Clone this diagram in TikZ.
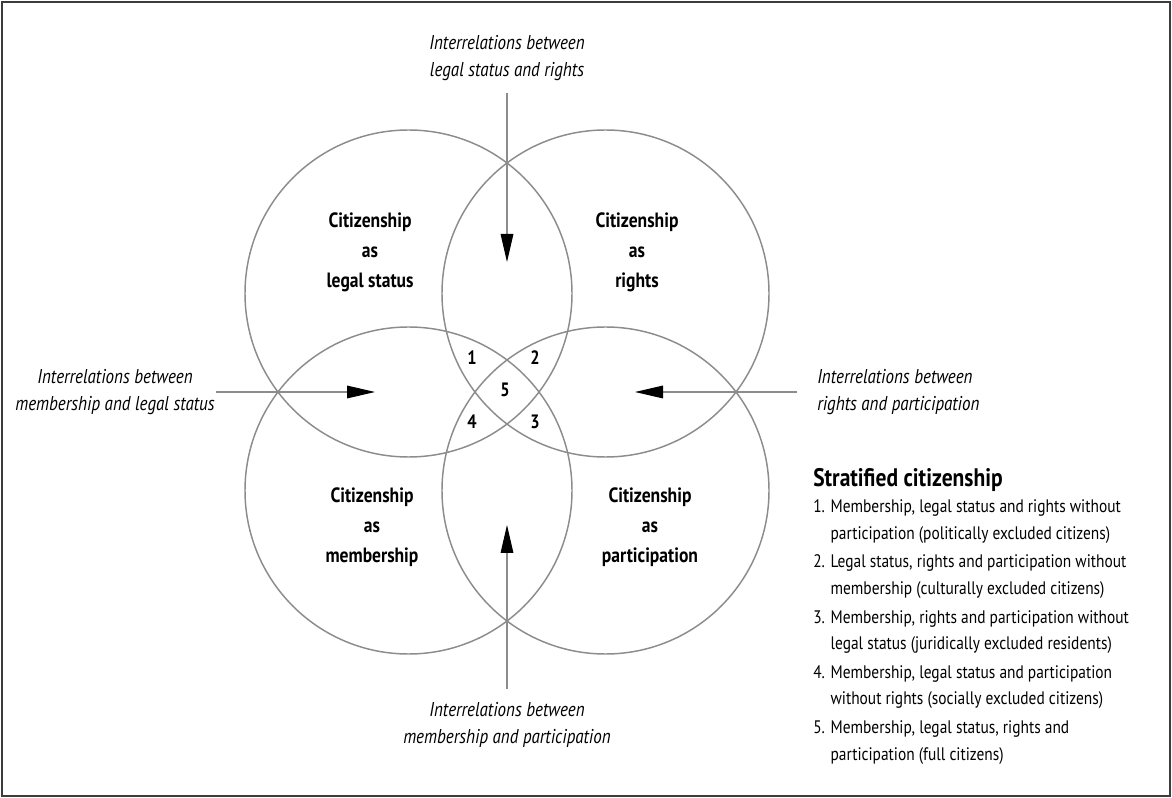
\documentclass[tikz,border=0pt]{standalone}
\usepackage{fontspec}
\setmainfont{PT Sans}[FakeStretch=0.85]
\usepackage{xcolor}
\usepackage{tikz}
\usetikzlibrary{arrows.meta, positioning}
\definecolor{ringgray}{RGB}{140,140,140}
\definecolor{framegray}{RGB}{60,60,60}

\begin{document}
\begin{tikzpicture}[
    x=0.75pt, y=-0.75pt,
    ring/.style={draw=ringgray, circle, line width=1.1pt, minimum size=245.25pt, inner sep=0pt},
    lbl/.style={font=\fontsize{15.5}{22.5}\selectfont\bfseries, align=center},
    num/.style={font=\fontsize{14.5}{16}\selectfont\bfseries, inner sep=0pt},
    rel/.style={font=\fontsize{15}{20.25}\selectfont\itshape, inner sep=0pt},
    item/.style={font=\fontsize{13.6}{19.9}\selectfont, align=left, anchor=west, inner sep=0pt},
    arr/.style={draw=ringgray, line width=0.8pt, -{Triangle[length=21pt, width=9.5pt, color=black]}},
  ]
  \useasboundingbox (0,0) rectangle (1172,798);
  \draw[framegray, line width=1.5pt] (2,2) rectangle (1170,796);

  % four circles
  \node[ring] (cl) at (408.5,293.5) {};
  \node[ring] (cr) at (605.5,293.5) {};
  \node[ring] (cm) at (408.5,490.5) {};
  \node[ring] (cp) at (605.5,490.5) {};

  \node[lbl] (tl) at (370,252) {Citizenship\\as\\legal status};
  \node[lbl] (tr) at (637,252) {Citizenship\\as\\rights};
  \node[lbl] (tm) at (372,527) {Citizenship\\as\\membership};
  \node[lbl] (tp) at (650,527) {Citizenship\\as\\participation};

  \node[num] (n1) at (472,358) {1};
  \node[num] (n2) at (535,358) {2};
  \node[num] (n3) at (535,422) {3};
  \node[num] (n4) at (472,422) {4};
  \node[num] (n5) at (505,390) {5};

  % interrelations
  \node[rel, align=center] (rt) at (507,58) {Interrelations between\\legal status and rights};
  \node[rel, align=center] (rm) at (115,392) {Interrelations between\\membership and legal status};
  \node[rel, align=left, anchor=west] (rp) at (817,392) {Interrelations between\\rights and participation};
  \node[rel, align=center] (rb) at (507,725) {Interrelations between\\membership and participation};

  \coordinate (at) at (507,262);
  \coordinate (ab) at (507,525);
  \coordinate (am) at (375,392);
  \coordinate (ap) at (635,392);

  \draw[arr, shorten <=9pt] (rt) -- (at);
  \draw[arr, shorten <=10pt] (rb) -- (ab);
  \draw[arr, shorten <=1pt] (rm) -- (am);
  \draw[arr, shorten <=15pt] (rp) -- (ap);

  % legend
  \node[font=\fontsize{19}{22}\selectfont\bfseries, anchor=west, inner sep=0pt] (lg) at (813,480) {Stratified citizenship};
  \node[item] (it1) at (813,521.5) {\makebox[13pt][l]{1.}Membership, legal status and rights without\\\hspace*{13pt}participation (politically excluded citizens)};
  \node[item] (it2) at (813,576.5) {\makebox[13pt][l]{2.}Legal status, rights and participation without\\\hspace*{13pt}membership (culturally excluded citizens)};
  \node[item] (it3) at (813,632) {\makebox[13pt][l]{3.}Membership, rights and participation without\\\hspace*{13pt}legal status (juridically excluded residents)};
  \node[item] (it4) at (813,687) {\makebox[13pt][l]{4.}Membership, legal status and participation\\\hspace*{13pt}without rights (socially excluded citizens)};
  \node[item] (it5) at (813,742.5) {\makebox[13pt][l]{5.}Membership, legal status, rights and\\\hspace*{13pt}participation (full citizens)};
\end{tikzpicture}
\end{document}
